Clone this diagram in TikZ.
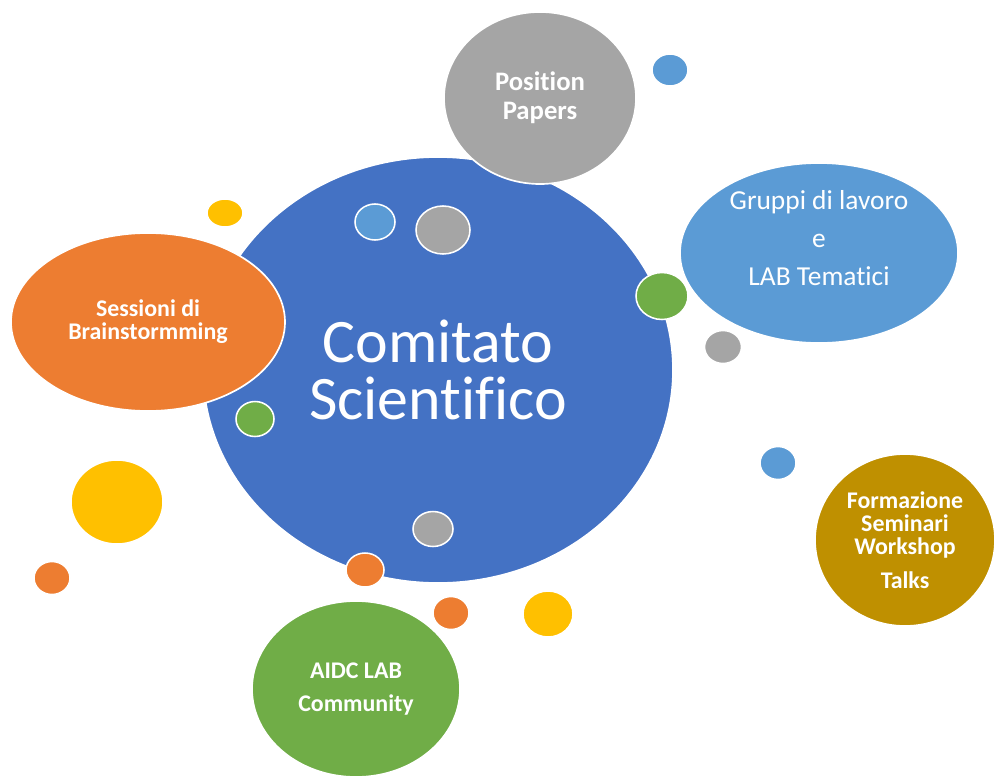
\documentclass[tikz,border=0pt]{standalone}
\usepackage{fontspec}
\setmainfont{Carlito}[Ligatures=CommonOff]
\usetikzlibrary{shapes.geometric}
\definecolor{cmain}{HTML}{4472C4}
\definecolor{cgray}{HTML}{A5A5A5}
\definecolor{clblue}{HTML}{5B9BD5}
\definecolor{corange}{HTML}{ED7D31}
\definecolor{cgold}{HTML}{BF9000}
\definecolor{cgreen}{HTML}{70AD47}
\definecolor{cyellow}{HTML}{FFC000}
\begin{document}
\begin{tikzpicture}[x=0.25mm,y=-0.25mm]%
  \tikzstyle{bub}=[ellipse,draw=white,line width=1.2pt,inner sep=0pt,text=white,align=center]
  \tikzstyle{dot}=[ellipse,draw=white,line width=1.1pt,inner sep=0pt]
  \tikzstyle{bold}=[font=\bfseries\fontsize{17}{16.5}\selectfont]
  \useasboundingbox (0,0) rectangle (994,775);
  % central bubble
  \node(main)[bub,fill=cmain,minimum width=117.5mm,minimum height=106.5mm,
    font=\fontsize{44}{41}\selectfont] at (438,370) {Comitato\\Scientifico};
  % outer bubbles
  \node(papers)[bub,fill=cgray,minimum width=48mm,minimum height=43mm,
    font=\bfseries\fontsize{19}{20.6}\selectfont] at (540,98) {Position\\Papers};
  \node(gruppi)[bub,fill=clblue,minimum width=69.5mm,minimum height=45mm] at (819,253) {};
  \node(gruppitxt)[text=white,align=center,font=\fontsize{19.5}{27}\selectfont]
    at (819,238) {Gruppi di lavoro\\e\\LAB Tematici};
  \node(sessioni)[bub,bold,fill=corange,minimum width=68.5mm,minimum height=44.5mm]
    at (148,322) {Sessioni di\\Brainstormming};
  \node(formazione)[bub,bold,fill=cgold,minimum width=45mm,minimum height=43mm]
    at (905,540) {Formazione\\Seminari\\Workshop\\[7pt]Talks};
  \node(aidc)[bub,bold,fill=cgreen,minimum width=52mm,minimum height=44mm,
    font=\bfseries\fontsize{17}{23.5}\selectfont] at (356,689) {AIDC LAB\\Community};
  % small dots
  \node(dotA)[dot,fill=clblue,minimum width=9mm,minimum height=8mm] at (670,70) {};
  \node(dotB)[dot,fill=cyellow,minimum width=9mm,minimum height=7mm] at (225,213) {};
  \node(dotC)[dot,fill=clblue,minimum width=10mm,minimum height=9mm] at (375,222) {};
  \node(dotD)[dot,fill=cgray,minimum width=13.5mm,minimum height=12mm] at (443,230) {};
  \node(dotE)[dot,fill=cgreen,minimum width=13mm,minimum height=11.75mm] at (662,296) {};
  \node(dotF)[dot,fill=cgray,minimum width=9.25mm,minimum height=8.25mm] at (723,347) {};
  \node(dotG)[dot,fill=cgreen,minimum width=9.5mm,minimum height=8.75mm] at (255,419) {};
  \node(dotH)[dot,fill=clblue,minimum width=9mm,minimum height=8.25mm] at (778,463) {};
  \node(dotI)[dot,fill=cyellow,minimum width=23mm,minimum height=21mm] at (117,502) {};
  \node(dotJ)[dot,fill=cgray,minimum width=10mm,minimum height=8.75mm] at (433,529) {};
  \node(dotK)[dot,fill=corange,minimum width=9mm,minimum height=8.25mm] at (52,578) {};
  \node(dotL)[dot,fill=corange,minimum width=9.5mm,minimum height=8.5mm] at (365,570) {};
  \node(dotM)[dot,fill=corange,minimum width=9mm,minimum height=8.25mm] at (451,613) {};
  \node(dotN)[dot,fill=cyellow,minimum width=12.5mm,minimum height=11.5mm] at (548,614) {};
\end{tikzpicture}
\end{document}
